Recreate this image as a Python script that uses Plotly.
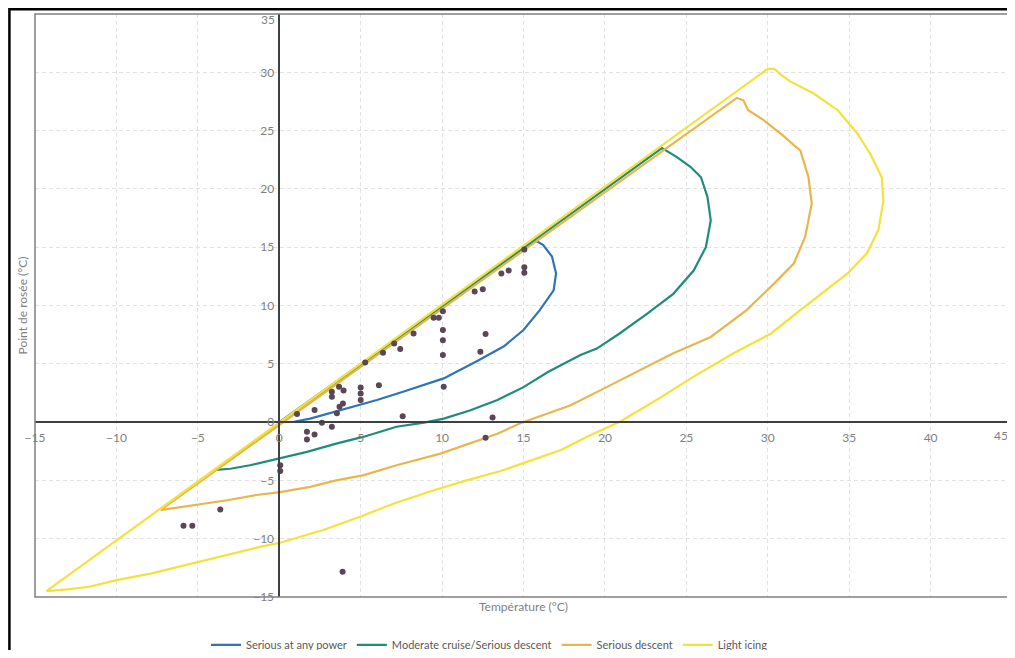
import plotly.graph_objects as go

# ---- data ----
serious_any_x = [0, 0.9, 1.9, 3.1, 4.4, 6.0, 7.6, 10.1, 12.1, 13.8, 15.0, 16.0, 16.85, 17.0, 16.75, 16.2, 15.7, 0]
serious_any_y = [0, 0.03, 0.3, 0.75, 1.3, 1.9, 2.6, 3.75, 5.2, 6.5, 7.9, 9.6, 11.3, 12.75, 14.2, 15.2, 15.6, 0]

moderate_x = [-3.9, -3.0, -1.8, 0.05, 1.7, 3.5, 5.2, 7.2, 8.9, 10.1, 11.7, 13.4, 15.0, 16.5, 18.5, 19.5, 20.9,
              22.6, 24.2, 25.45, 26.2, 26.5, 26.3, 25.9, 25.25, 24.4, 23.5, -3.9]
moderate_y = [-4.1, -4.0, -3.7, -3.1, -2.55, -1.85, -1.25, -0.4, -0.05, 0.3, 1.0, 1.9, 3.0, 4.3, 5.75, 6.3, 7.6,
              9.3, 11.0, 13.0, 15.0, 17.3, 19.3, 21.0, 21.9, 22.75, 23.5, -4.1]

descent_x = [-7.3, -5.5, -3.2, -1.4, 0.05, 1.9, 3.5, 5.2, 7.2, 9.9, 11.7, 13.4, 14.8, 16.2, 17.9, 20.1, 22.2,
             24.2, 26.5, 28.7, 30.4, 31.6, 32.3, 32.7, 32.5, 32.0, 31.6, 31.0, 29.75, 28.8, 28.5, 28.1, -7.3]
descent_y = [-7.55, -7.2, -6.7, -6.25, -6.0, -5.55, -5.0, -4.55, -3.7, -2.7, -1.85, -1.0, -0.1, 0.6, 1.45, 3.0, 4.45,
             5.9, 7.3, 9.6, 11.9, 13.6, 15.9, 18.75, 21.0, 23.3, 23.75, 24.5, 25.9, 26.75, 27.6, 27.8, -7.55]

light_x = [-14.3, -13.0, -11.6, -10.0, -7.9, -5.7, -3.2, -1.2, 0.05, 1.3, 2.7, 5.0, 7.0, 9.5, 11.5, 13.6, 15.6,
           17.3, 18.9, 20.95, 23.4, 25.45, 27.9, 30.2, 32.0, 33.6, 34.9, 36.1, 36.8, 37.1, 37.0, 36.3, 35.5,
           34.3, 32.8, 31.4, 30.8, 30.4, 30.0, -14.3]
light_y = [-14.5, -14.35, -14.1, -13.55, -13.0, -12.25, -11.4, -10.7, -10.35, -9.85, -9.25, -8.1, -7.0, -5.85, -5.0,
           -4.2, -3.25, -2.4, -1.25, 0.05, 2.1, 3.9, 5.9, 7.6, 9.6, 11.3, 12.75, 14.5, 16.5, 19.0, 21.0, 23.0,
           24.75, 26.75, 28.2, 29.2, 29.8, 30.3, 30.3, -14.5]

obs_x = [15.05, 15.05, 15.05, 13.64, 14.09, 12.0, 12.5, 10.05, 9.48, 9.8, 10.05, 10.05, 10.05, 10.1, 12.67, 12.35,
         8.25, 7.06, 7.43, 6.37, 5.28, 6.12, 5.0, 5.0, 5.0, 3.67, 3.95, 3.23, 3.23, 3.91, 3.7, 3.54, 2.17, 1.09,
         2.62, 3.23, 1.7, 2.17, 1.7, 7.58, 13.1, 12.67, 0.06, 0.06, -3.62, -5.88, -5.34, 3.89]
obs_y = [14.8, 13.27, 12.8, 12.75, 13.0, 11.2, 11.4, 9.5, 8.95, 8.95, 7.9, 7.03, 5.75, 3.03, 7.55, 6.03,
         7.6, 6.75, 6.26, 5.95, 5.12, 3.15, 2.97, 2.46, 1.89, 3.03, 2.7, 2.6, 2.17, 1.6, 1.31, 0.75, 1.03, 0.69,
         -0.06, -0.4, -0.83, -1.06, -1.49, 0.51, 0.4, -1.35, -3.69, -4.2, -7.49, -8.89, -8.89, -12.84]

series_names = ["Serious at any power", "Moderate cruise/Serious descent", "Serious descent", "Light icing"]
series_colors = ["#2f74b5", "#1f8c7c", "#e8b64c", "#f2e23a"]

x_ticks = list(range(-15, 45, 5))   # 45 drawn separately at the edge
y_ticks = list(range(-15, 35, 5))   # 35 drawn separately at the top
x_edge_label = "45"
y_edge_label = "35"

FONT = "Lato, 'Open Sans', sans-serif"
GRAY = "#7f7f7f"

fig = go.Figure()
curves = [(serious_any_x, serious_any_y), (moderate_x, moderate_y), (descent_x, descent_y), (light_x, light_y)]
for (cx, cy), name, col in zip(curves, series_names, series_colors):
    fig.add_trace(go.Scatter(x=cx, y=cy, mode="lines", name=name,
                             line=dict(color=col, width=2.2)))

fig.add_trace(go.Scatter(x=obs_x, y=obs_y, mode="markers", showlegend=False,
                         marker=dict(color="#5a4656", size=6)))

fig.update_layout(
    width=1007, height=642,
    margin=dict(l=27, r=3, t=6, b=53, autoexpand=False),
    paper_bgcolor="white", plot_bgcolor="white",
    font=dict(family=FONT, size=12, color=GRAY),
    xaxis=dict(range=[-15, 45], tickvals=x_ticks, anchor="free", position=0.3, automargin=False,
               showline=True, linecolor="#404040", linewidth=1.5,
               showgrid=True, gridcolor="#e2e2e2", griddash="4px,3px", gridwidth=1,
               zeroline=False, ticks="", ticklabelstandoff=5, ticklabeloverflow="allow",
               tickfont=dict(family=FONT, size=12, color=GRAY)),
    yaxis=dict(range=[-15, 35], tickvals=y_ticks, anchor="free", position=0.25, automargin=False,
               showline=True, linecolor="#404040", linewidth=1.5,
               showgrid=True, gridcolor="#e2e2e2", griddash="4px,3px", gridwidth=1,
               zeroline=False, ticks="", ticklabelstandoff=2, ticklabeloverflow="allow",
               tickfont=dict(family=FONT, size=12, color=GRAY)),
    legend=dict(orientation="h", x=0.175, xanchor="left", y=-0.082, yanchor="middle",
                font=dict(family=FONT, size=11, color="#595959"), bgcolor="rgba(0,0,0,0)"),
    showlegend=True,
)

# plot frame and outer black frame
fig.add_shape(type="rect", xref="paper", yref="paper", x0=0, x1=1, y0=0, y1=1,
              line=dict(color="#808080", width=1.5), layer="above")
fig.add_shape(type="rect", xref="paper", yref="paper", x0=-0.0262, x1=1.02, y0=-0.13, y1=1.0083,
              line=dict(color="black", width=2.5), layer="above")

# edge tick labels kept fully visible
fig.add_annotation(text=y_edge_label, xref="paper", yref="paper", x=0.25, y=1, xanchor="right", yanchor="top",
                   xshift=-2, yshift=4, showarrow=False, font=dict(family=FONT, size=12, color=GRAY))
fig.add_annotation(text=x_edge_label, xref="paper", yref="paper", x=1, y=0.3, xanchor="right", yanchor="top",
                   xshift=-2, yshift=-4, showarrow=False, font=dict(family=FONT, size=12, color=GRAY))

fig.add_annotation(text="Température (°C)", xref="paper", yref="paper", x=0.5, y=-0.017,
                   xanchor="center", yanchor="middle", showarrow=False,
                   font=dict(family=FONT, size=12, color=GRAY))
fig.add_annotation(text="Point de rosée (°C)", xref="paper", yref="paper", x=-0.0133, y=0.5,
                   xanchor="center", yanchor="middle", textangle=-90, showarrow=False,
                   font=dict(family=FONT, size=12, color=GRAY))

fig.write_html("out.html")
